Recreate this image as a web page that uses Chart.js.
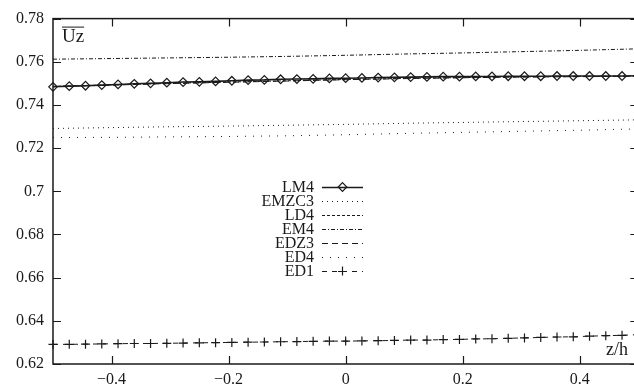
<!DOCTYPE html>
<html>
<head>
<meta charset="utf-8">
<script src="https://cdn.jsdelivr.net/npm/chart.js@4.4.1/dist/chart.umd.min.js"></script>
<style>
  html, body { margin: 0; padding: 0; background: #fff; overflow: hidden; }
  canvas { display: block; }
</style>
</head>
<body>
<canvas id="uz" width="644" height="390"></canvas>
<script>
// z/h stations of the marked profiles (36 steps across the channel)
const zFine = Array.from({ length: 37 }, (_, k) => -0.5 + k / 36);
// coarser stations for the plain-line profiles
const zCoarse = [-0.5, -0.4, -0.3, -0.2, -0.1, 0, 0.1, 0.2, 0.3, 0.4, 0.5];

const lm4 = [0.7484, 0.7487, 0.7489, 0.7492, 0.7495, 0.7498, 0.7500, 0.7503, 0.7506, 0.7507,
             0.7509, 0.7512, 0.7515, 0.7516, 0.7519, 0.7520, 0.7521, 0.7523, 0.7524, 0.7525,
             0.7527, 0.7528, 0.7529, 0.7530, 0.7531, 0.7531, 0.7532, 0.7532, 0.7533, 0.7533,
             0.7533, 0.7534, 0.7534, 0.7534, 0.7534, 0.7534, 0.7535];
const emzc3 = [0.7291, 0.7295, 0.7299, 0.7302, 0.7306, 0.7310, 0.7315, 0.7319, 0.7323, 0.7327, 0.7331];
const ld4 = [0.7486, 0.7493, 0.7500, 0.7506, 0.7512, 0.7518, 0.7523, 0.7527, 0.7530, 0.7532, 0.7534];
const em4 = [0.7612, 0.7615, 0.7618, 0.7621, 0.7625, 0.7630, 0.7636, 0.7641, 0.7647, 0.7653, 0.7660];
const edz3 = [0.7485, 0.7492, 0.7499, 0.7505, 0.7511, 0.7517, 0.7522, 0.7526, 0.7529, 0.7531, 0.7533];
const ed4 = [0.7249, 0.7250, 0.7252, 0.7254, 0.7257, 0.7262, 0.7268, 0.7273, 0.7278, 0.7283, 0.7289];
const ed1 = [0.6291, 0.6291, 0.6292, 0.6293, 0.6294, 0.6295, 0.6295, 0.6296, 0.6297, 0.6298,
             0.6299, 0.6300, 0.6301, 0.6302, 0.6303, 0.6304, 0.6305, 0.6306, 0.6306, 0.6307,
             0.6308, 0.6309, 0.6311, 0.6311, 0.6313, 0.6314, 0.6316, 0.6317, 0.6319, 0.6321,
             0.6323, 0.6325, 0.6326, 0.6329, 0.6331, 0.6333, 0.6336];

const xTicks = [-0.4, -0.2, 0, 0.2, 0.4];
const yTicks = [0.62, 0.64, 0.66, 0.68, 0.7, 0.72, 0.74, 0.76, 0.78];

const ink = '#1a1a1a';
const serif = "'Liberation Serif', 'Times New Roman', serif";

const pts = (xs, ys) => ys.map((y, i) => ({ x: xs[i], y }));

const plain = (label, xs, ys, dash, extra) => Object.assign({
  label, data: pts(xs, ys),
  borderColor: ink, borderWidth: 1, borderDash: dash,
  pointRadius: 0, fill: false, tension: 0
}, extra || {});

const datasets = [
  plain('LM4', zFine, lm4, [], {
    borderWidth: 1.6, pointStyle: 'rectRot', pointRadius: 4.3,
    pointBorderWidth: 1.2, pointBorderColor: ink, pointBackgroundColor: 'rgba(255,255,255,0)', clip: false
  }),
  plain('EMZC3', zCoarse, emzc3, [1, 4]),
  plain('LD4', zCoarse, ld4, [3, 2]),
  plain('EM4', zCoarse, em4, [4, 2, 1, 2]),
  plain('EDZ3', zCoarse, edz3, [6, 4]),
  plain('ED4', zCoarse, ed4, [1, 7]),
  plain('ED1', zFine, ed1, [5, 5], {
    pointStyle: 'cross', pointRadius: 4.5, pointBorderWidth: 1.2,
    pointBorderColor: ink, clip: false
  })
];

// frame with inward ticks on all four sides, axis captions and the key
const framePlugin = {
  id: 'frame',
  afterDatasetsDraw(chart) {
    const { ctx, chartArea: a, scales: { x, y } } = chart;
    const t = 8;
    ctx.save();
    ctx.strokeStyle = ink;
    ctx.lineWidth = 1.5;
    ctx.strokeRect(a.left, a.top, a.right - a.left, a.bottom - a.top);
    ctx.lineWidth = 1.2;
    ctx.beginPath();
    xTicks.forEach(v => {
      const px = Math.round(x.getPixelForValue(v)) + 0.5;
      ctx.moveTo(px, a.bottom); ctx.lineTo(px, a.bottom - t);
      ctx.moveTo(px, a.top); ctx.lineTo(px, a.top + t);
    });
    yTicks.forEach(v => {
      const py = Math.round(y.getPixelForValue(v)) + 0.5;
      ctx.moveTo(a.left, py); ctx.lineTo(a.left + t, py);
      ctx.moveTo(a.right, py); ctx.lineTo(a.right - t, py);
    });
    ctx.stroke();

    // overlined Uz in the top-left corner
    ctx.fillStyle = ink;
    ctx.font = '19px ' + serif;
    ctx.textBaseline = 'alphabetic';
    ctx.textAlign = 'left';
    const ux = a.left + 9, uy = a.top + 23;
    ctx.fillText('Uz', ux, uy);
    const uw = ctx.measureText('Uz').width;
    ctx.lineWidth = 1;
    ctx.beginPath();
    ctx.moveTo(ux, uy - 14.5); ctx.lineTo(ux + uw, uy - 14.5);
    ctx.stroke();

    // abscissa caption
    ctx.font = '18px ' + serif;
    ctx.textAlign = 'right';
    ctx.fillText('z/h', 628, a.bottom - 9);

    // key: right-aligned names, sample line to the right
    ctx.font = '16px ' + serif;
    ctx.textBaseline = 'middle';
    const textRight = 314, s0 = 322, s1 = 363, top = 187, step = 14;
    chart.data.datasets.forEach((ds, i) => {
      const ly = top + i * step;
      ctx.fillStyle = ink;
      ctx.textAlign = 'right';
      ctx.fillText(ds.label, textRight, ly + 1);
      ctx.strokeStyle = ink;
      ctx.lineWidth = ds.borderWidth;
      ctx.setLineDash(ds.borderDash);
      ctx.beginPath();
      ctx.moveTo(s0, ly + 0.5); ctx.lineTo(s1, ly + 0.5);
      ctx.stroke();
      ctx.setLineDash([]);
      const mx = (s0 + s1) / 2, r = ds.pointRadius;
      ctx.lineWidth = 1.2;
      if (ds.pointStyle === 'rectRot') {
        ctx.beginPath();
        ctx.moveTo(mx, ly - r); ctx.lineTo(mx + r, ly); ctx.lineTo(mx, ly + r); ctx.lineTo(mx - r, ly);
        ctx.closePath();
        ctx.stroke();
      } else if (ds.pointStyle === 'cross') {
        ctx.fillStyle = '#fff';
        ctx.fillRect(mx - r - 1, ly - 2, 2 * r + 2, 4);
        ctx.beginPath();
        ctx.moveTo(mx - r, ly + 0.5); ctx.lineTo(mx + r, ly + 0.5);
        ctx.moveTo(mx, ly - r); ctx.lineTo(mx, ly + r);
        ctx.stroke();
      }
    });
    ctx.restore();
  }
};

const fmtX = v => (v < 0 ? '\u2212' + String(-v) : String(v));

new Chart(document.getElementById('uz'), {
  type: 'line',
  data: { datasets },
  plugins: [framePlugin],
  options: {
    responsive: false,
    animation: false,
    devicePixelRatio: 1,
    layout: { padding: { top: 14, right: 2, left: 0, bottom: 0 } },
    plugins: { legend: { display: false }, tooltip: { enabled: false } },
    scales: {
      x: {
        type: 'linear', min: -0.5, max: 0.5,
        grid: { display: false, drawTicks: false },
        border: { display: false },
        ticks: { padding: 6, color: ink, font: { family: serif, size: 16 }, callback: fmtX, maxRotation: 0 },
        afterBuildTicks: s => { s.ticks = xTicks.map(v => ({ value: v })); },
        afterFit: s => { s.height = 26; }
      },
      y: {
        type: 'linear', min: 0.62, max: 0.78,
        grid: { display: false, drawTicks: false },
        border: { display: false },
        ticks: { padding: 9, color: ink, font: { family: serif, size: 16 }, callback: v => String(v), autoSkip: false },
        afterBuildTicks: s => { s.ticks = yTicks.map(v => ({ value: v })); },
        afterFit: s => { s.width = 53; }
      }
    }
  }
});
</script>
</body>
</html>
